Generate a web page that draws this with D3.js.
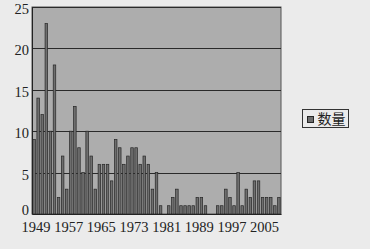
<!DOCTYPE html>
<html>
<head>
<meta charset="utf-8">
<script src="https://cdn.jsdelivr.net/npm/d3@7"></script>
<style>
    body { margin: 0; background: #ebebeb; }
    #chart { width: 370px; height: 249px; }
    .axis text { font-family: "Liberation Serif", serif; font-size: 14.5px; fill: #222; }
</style>
</head>
<body>
<div id="chart"></div>
<script>

// years on the category axis
let years = [1949, 1950, 1951, 1952, 1953, 1954, 1955, 1956, 1957, 1958,
    1959, 1960, 1961, 1962, 1963, 1964, 1965, 1966, 1967, 1968,
    1969, 1970, 1971, 1972, 1973, 1974, 1975, 1976, 1977, 1978,
    1979, 1980, 1981, 1982, 1983, 1984, 1985, 1986, 1987, 1988,
    1989, 1990, 1991, 1992, 1993, 1994, 1995, 1996, 1997, 1998,
    1999, 2000, 2001, 2002, 2003, 2004, 2005, 2006, 2007, 2008, 2009];

// 数量 per year
let counts = [9, 14, 12, 23, 10, 18, 2, 7, 3, 10,
    13, 8, 5, 10, 7, 3, 6, 6, 6, 4,
    9, 8, 6, 7, 8, 8, 6, 7, 6, 3,
    5, 1, 0, 1, 2, 3, 1, 1, 1, 1,
    2, 2, 1, 0, 0, 1, 1, 3, 2, 1,
    5, 1, 3, 2, 4, 4, 2, 2, 2, 1, 2];

let xTickLabels = [1949, 1957, 1965, 1973, 1981, 1989, 1997, 2005];
let yTicks = [0, 5, 10, 15, 20, 25];
let seriesName = "数量";

class BarChart {

    constructor(parentElement, data) {
        this.parentElement = parentElement;
        this.data = data;
        this.initVis();
    }

    initVis() {
        let vis = this;

        vis.margin = {top: 7, right: 89, bottom: 35, left: 32};
        vis.width = 370 - vis.margin.left - vis.margin.right;
        vis.height = 249 - vis.margin.top - vis.margin.bottom;

        vis.root = d3.select("#" + vis.parentElement).append("svg")
            .attr("width", 370)
            .attr("height", 249);

        vis.svg = vis.root.append("g")
            .attr("transform", "translate(" + vis.margin.left + "," + vis.margin.top + ")");

        // gray plot area
        vis.svg.append("rect")
            .attr("width", vis.width)
            .attr("height", vis.height)
            .attr("fill", "#adadad")
            .attr("stroke", "#555")
            .attr("stroke-width", 1);

        vis.x = d3.scaleBand()
            .domain(years)
            .range([0, vis.width])
            .paddingInner(0.38)
            .paddingOuter(0.2);

        vis.y = d3.scaleLinear()
            .domain([0, 25])
            .range([vis.height, 0]);

        vis.xAxis = d3.axisBottom(vis.x)
            .tickValues(xTickLabels)
            .tickSize(0)
            .tickPadding(8);

        vis.yAxis = d3.axisLeft(vis.y)
            .tickValues(yTicks)
            .tickSize(0)
            .tickPadding(3);

        vis.wrangleData();
    }

    wrangleData() {
        let vis = this;
        vis.displayData = years.map((yr, i) => ({year: yr, value: vis.data[i]}));
        vis.updateVis();
    }

    updateVis() {
        let vis = this;

        // horizontal gridlines
        vis.svg.append("g")
            .selectAll("line")
            .data(yTicks.filter(d => d > 0))
            .enter()
            .append("line")
            .attr("x1", 0)
            .attr("x2", vis.width)
            .attr("y1", d => Math.round(vis.y(d)) + 0.5)
            .attr("y2", d => Math.round(vis.y(d)) + 0.5)
            .attr("stroke", "#2a2a2a")
            .attr("stroke-width", 1);

        vis.svg.append("g")
            .selectAll("rect")
            .data(vis.displayData.filter(d => d.value > 0))
            .enter()
            .append("rect")
            .attr("x", d => vis.x(d.year))
            .attr("y", d => vis.y(d.value))
            .attr("width", vis.x.bandwidth())
            .attr("height", d => vis.height - vis.y(d.value))
            .attr("fill", "#6e6e6e")
            .attr("stroke", "#262626")
            .attr("stroke-width", 0.7);

        let gx = vis.svg.append("g")
            .attr("class", "x-axis axis")
            .attr("transform", "translate(0," + vis.height + ")")
            .call(vis.xAxis);
        gx.selectAll("text").attr("dx", 2);
        gx.select(".domain").attr("stroke", "#222");

        let gy = vis.svg.append("g")
            .attr("class", "y-axis axis")
            .call(vis.yAxis);
        // the 0 label sits just above the axis line, the rest a bit under their gridline
        gy.selectAll("text").attr("dy", d => d === 0 ? "0.02em" : "0.45em");
        gy.select(".domain").attr("stroke", "#222");

        // legend
        let legend = vis.root.append("g")
            .attr("transform", "translate(302.5,109.5)");
        legend.append("rect")
            .attr("width", 46)
            .attr("height", 18)
            .attr("fill", "#ebebeb")
            .attr("stroke", "#333");
        legend.append("rect")
            .attr("x", 5)
            .attr("y", 7)
            .attr("width", 6)
            .attr("height", 6)
            .attr("fill", "#6e6e6e")
            .attr("stroke", "#262626");
        legend.append("text")
            .attr("x", 15)
            .attr("y", 14.5)
            .attr("font-family", "'Noto Sans CJK SC', sans-serif")
            .attr("font-size", "14px")
            .attr("fill", "#222")
            .text(seriesName);
    }
}

new BarChart("chart", counts);
</script>
</body>
</html>
